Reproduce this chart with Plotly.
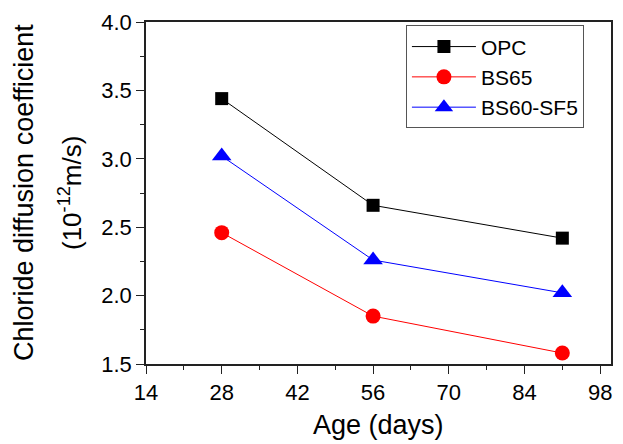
import plotly.graph_objects as go

# Curing age (days) and chloride diffusion coefficient (1e-12 m^2/s)
age_days = [28, 56, 91]
opc = [3.44, 2.66, 2.42]
bs65 = [2.46, 1.85, 1.58]
bs60_sf5 = [3.02, 2.26, 2.02]

series = [
    ("OPC", opc, "black", "square", 13),
    ("BS65", bs65, "red", "circle", 15),
    ("BS60-SF5", bs60_sf5, "blue", "triangle-up", 17),
]

FONT = "Liberation Sans, Arial, sans-serif"
AXIS_COLOR = "#222222"

fig = go.Figure()
for name, vals, color, symbol, size in series:
    fig.add_trace(go.Scatter(
        x=age_days, y=vals, name=name, mode="lines+markers",
        line=dict(color=color, width=1),
        marker=dict(symbol=symbol, size=size, color=color,
                    line=dict(width=0)),
    ))

axis_common = dict(
    showline=True, linecolor=AXIS_COLOR, linewidth=1.5, mirror=True,
    showgrid=False, zeroline=False,
    ticks="outside", ticklen=8, tickwidth=1.2, tickcolor=AXIS_COLOR,
    tickfont=dict(family=FONT, size=22, color="black"),
)

fig.update_xaxes(
    range=[14, 100], tick0=14, dtick=14,
    minor=dict(ticks="outside", ticklen=4, dtick=7, tick0=14,
               tickcolor=AXIS_COLOR, tickwidth=1.2),
    **axis_common,
)
fig.update_yaxes(
    range=[1.5, 4.0], tick0=1.5, dtick=0.5, tickformat=".1f",
    minor=dict(ticks="outside", ticklen=4, dtick=0.25, tick0=1.5,
               tickcolor=AXIS_COLOR, tickwidth=1.2),
    **axis_common,
)

L, R, T, B = 146, 10, 19, 80
fig.update_layout(
    width=623, height=444,
    margin=dict(l=L, r=R, t=T, b=B),
    paper_bgcolor="white", plot_bgcolor="white",
    font=dict(family=FONT, color="black"),
    showlegend=True,
    legend=dict(
        x=0.559, y=0.99, xanchor="left", yanchor="top",
        bgcolor="white", bordercolor="#555555", borderwidth=1,
        font=dict(family=FONT, size=21, color="black"),
        tracegroupgap=0, itemwidth=64,
    ),
    annotations=[
        dict(text="Age (days)", xref="paper", yref="paper",
             x=0.5, y=0, xanchor="center", yanchor="middle",
             yshift=-61, showarrow=False,
             font=dict(family=FONT, size=27, color="black")),
        dict(text="Chloride diffusion coefficient", xref="paper", yref="paper",
             x=0, y=0.5, xanchor="center", yanchor="middle",
             xshift=24 - L, textangle=-90, showarrow=False,
             font=dict(family=FONT, size=27, color="black")),
        dict(text="(10<sup>-12</sup>m/s)", xref="paper", yref="paper",
             x=0, y=0.5, xanchor="center", yanchor="middle",
             xshift=70 - L, textangle=-90, showarrow=False,
             font=dict(family=FONT, size=26, color="black")),
    ],
)

fig.write_html("out.html")
